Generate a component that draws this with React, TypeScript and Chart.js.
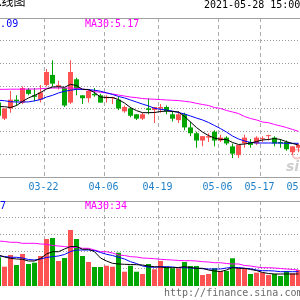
import React, { useEffect, useRef } from 'react';
import { Chart, registerables } from 'chart.js';

Chart.register(...registerables);

// ---------------- data ----------------
const TITLE = '日K线图';
const TIMESTAMP = '2021-05-28 15:00';
const PRICE_MA_TEXT = ['MA10:5.09', 'MA30:5.17'];
const VOLUME_MA_TEXT = ['MA10:27', 'MA30:34'];
const SOURCE = 'http://finance.sina.com';

const OPEN = [5.37, 5.26, 5.33, 5.39, 5.37, 5.46, 5.42, 5.39, 5.49, 5.56, 5.48, 5.47, 5.37, 5.53, 5.42, 5.40, 5.43, 5.42, 5.40, 5.40, 5.39, 5.31, 5.33, 5.29, 5.26, 5.33, 5.32, 5.33, 5.34, 5.29, 5.25, 5.29, 5.20, 5.16, 5.11, 5.13, 5.17, 5.11, 5.13, 5.07, 5.01, 5.09, 5.10, 5.09, 5.12, 5.14, 5.13, 5.10, 5.10, 5.03, 5.06];
const HIGH = [5.37, 5.33, 5.45, 5.42, 5.48, 5.47, 5.47, 5.49, 5.60, 5.66, 5.52, 5.47, 5.66, 5.54, 5.42, 5.46, 5.47, 5.43, 5.42, 5.41, 5.41, 5.35, 5.34, 5.29, 5.30, 5.40, 5.34, 5.36, 5.35, 5.31, 5.31, 5.30, 5.24, 5.17, 5.14, 5.16, 5.18, 5.15, 5.14, 5.09, 5.08, 5.15, 5.12, 5.14, 5.14, 5.15, 5.14, 5.12, 5.11, 5.07, 5.09];
const LOW = [5.27, 5.25, 5.30, 5.35, 5.36, 5.42, 5.38, 5.37, 5.48, 5.48, 5.46, 5.34, 5.36, 5.42, 5.36, 5.37, 5.41, 5.37, 5.37, 5.36, 5.32, 5.30, 5.27, 5.25, 5.25, 5.29, 5.23, 5.30, 5.29, 5.24, 5.23, 5.18, 5.14, 5.06, 5.07, 5.10, 5.07, 5.10, 5.08, 4.99, 4.99, 5.06, 5.06, 5.08, 5.10, 5.11, 5.07, 5.06, 5.04, 5.01, 5.03];
const CLOSE = [5.28, 5.33, 5.39, 5.38, 5.47, 5.43, 5.41, 5.44, 5.58, 5.50, 5.49, 5.35, 5.58, 5.46, 5.40, 5.45, 5.42, 5.37, 5.41, 5.40, 5.33, 5.34, 5.28, 5.26, 5.29, 5.32, 5.34, 5.34, 5.31, 5.26, 5.29, 5.20, 5.16, 5.11, 5.14, 5.14, 5.11, 5.13, 5.09, 5.02, 5.08, 5.13, 5.08, 5.13, 5.12, 5.14, 5.09, 5.09, 5.05, 5.07, 5.08];

const MA5 = [5.343, 5.342, 5.336, 5.350, 5.378, 5.402, 5.419, 5.439, 5.463, 5.477, 5.479, 5.475, 5.495, 5.487, 5.461, 5.460, 5.439, 5.408, 5.405, 5.405, 5.391, 5.367, 5.336, 5.315, 5.301, 5.301, 5.302, 5.309, 5.312, 5.309, 5.306, 5.275, 5.237, 5.199, 5.168, 5.144, 5.127, 5.118, 5.117, 5.097, 5.083, 5.086, 5.093, 5.103, 5.114, 5.117, 5.124, 5.117, 5.102, 5.090, 5.079];
const MA10 = [5.386, 5.383, 5.376, 5.374, 5.374, 5.375, 5.382, 5.391, 5.408, 5.420, 5.436, 5.448, 5.455, 5.461, 5.461, 5.459, 5.455, 5.448, 5.437, 5.426, 5.412, 5.402, 5.388, 5.374, 5.360, 5.347, 5.331, 5.324, 5.319, 5.312, 5.302, 5.292, 5.278, 5.264, 5.251, 5.234, 5.213, 5.192, 5.168, 5.141, 5.121, 5.107, 5.097, 5.093, 5.093, 5.093, 5.093, 5.093, 5.091, 5.091, 5.091];
const MA30 = [5.461, 5.461, 5.462, 5.462, 5.462, 5.463, 5.463, 5.465, 5.468, 5.470, 5.470, 5.470, 5.470, 5.468, 5.463, 5.456, 5.446, 5.441, 5.436, 5.429, 5.422, 5.415, 5.408, 5.404, 5.398, 5.395, 5.393, 5.391, 5.388, 5.386, 5.384, 5.379, 5.374, 5.365, 5.357, 5.350, 5.336, 5.330, 5.316, 5.306, 5.295, 5.275, 5.261, 5.251, 5.237, 5.232, 5.220, 5.210, 5.199, 5.186, 5.173];

const VOLUME = [61.0, 41.0, 65.9, 44.6, 68.0, 46.8, 49.5, 63.8, 99.9, 102.0, 53.1, 59.5, 119.0, 99.9, 63.8, 51.0, 40.4, 40.4, 43.1, 41.0, 70.8, 30.4, 43.1, 30.4, 25.5, 46.8, 35.5, 53.1, 41.0, 37.6, 37.6, 51.0, 42.5, 42.5, 23.4, 25.5, 37.6, 31.9, 31.9, 58.9, 37.6, 37.6, 25.5, 28.3, 28.3, 23.4, 25.5, 21.3, 31.9, 27.0, 34.0];
const VOL_MA5 = [65.9, 61.6, 58.9, 57.4, 56.7, 53.1, 53.1, 58.4, 68.0, 72.9, 72.9, 78.6, 83.9, 83.9, 78.0, 78.0, 72.9, 59.5, 53.1, 48.2, 46.8, 46.1, 45.7, 45.3, 44.6, 42.5, 41.0, 40.4, 38.9, 38.9, 39.3, 41.0, 39.3, 37.6, 37.6, 34.0, 31.9, 30.8, 34.0, 38.9, 37.6, 37.6, 35.1, 32.9, 28.7, 26.6, 25.5, 25.5, 25.5, 25.5, 25.5];
const VOL_MA10 = [63.8, 62.7, 61.0, 61.0, 59.5, 56.3, 55.3, 57.4, 60.6, 62.3, 63.8, 66.9, 73.3, 76.5, 76.5, 76.5, 75.4, 71.2, 67.4, 64.8, 61.0, 57.4, 51.6, 47.8, 42.5, 40.4, 39.7, 41.0, 41.0, 40.4, 38.9, 38.9, 38.3, 37.6, 36.8, 36.1, 36.1, 36.1, 38.3, 39.7, 39.3, 37.6, 36.8, 34.0, 32.5, 32.5, 31.9, 30.4, 30.4, 30.4, 30.4];
const VOL_MA30 = [95.6, 94.6, 92.9, 92.9, 90.7, 90.7, 90.7, 89.3, 88.6, 86.1, 85.0, 83.9, 82.2, 82.2, 80.1, 80.1, 76.5, 72.9, 72.9, 70.1, 65.9, 64.8, 62.3, 61.6, 59.5, 58.9, 58.0, 56.7, 55.9, 55.3, 54.2, 53.8, 53.8, 53.1, 51.6, 51.0, 49.5, 49.5, 47.8, 46.8, 46.8, 43.6, 42.5, 40.4, 38.9, 38.9, 38.3, 37.2, 36.1, 35.1, 34.0];

const DATE_TICK_DAYS = [8, 18, 27, 37, 44, 51];
const DATE_TICK_LABELS = ['03-22', '04-06', '04-19', '05-06', '05-17', '05-26'];

const DAYS = OPEN.map((_, i) => i);

// ---------------- layout / style ----------------
const W = 300;
const H = 300;
const PRICE_TOP = 18;
const PRICE_BOTTOM = 177;
const PRICE_HIGH = 5.95;
const PRICE_LOW = 4.86;
const PRICE_DIVS = 7;
const VOL_BORDER = 201;
const VOL_TOP = 200;
const VOL_BOTTOM = 286;
const VOL_HIGH = 182.75;
const VOL_DIVS = 5;
const X_MIN = 0.25;
const X_MAX = 50.25;

const RED = '#ff5252';
const GREEN = '#00a600';
const MONO = '10px "DejaVu Sans Mono"';

const pSlope = (PRICE_HIGH - PRICE_LOW) / (PRICE_BOTTOM - PRICE_TOP);
const vSlope = VOL_HIGH / (VOL_BOTTOM - VOL_TOP);

const panelPlugin = {
  id: 'panels',
  beforeDatasetsDraw(chart: any) {
    const ctx = chart.ctx as CanvasRenderingContext2D;
    const xs = chart.scales.x;
    const yP = chart.scales.yP;
    const yV = chart.scales.yV;
    ctx.save();
    // watermark
    ctx.strokeStyle = 'rgba(240,150,150,0.55)';
    ctx.lineWidth = 2;
    ctx.beginPath();
    ctx.arc(297, 154, 4.5, 0, Math.PI * 2);
    ctx.stroke();
    ctx.fillStyle = 'rgba(185,185,185,0.7)';
    ctx.font = 'italic bold 14px "DejaVu Sans"';
    ctx.fillText('sina', 286, 171);

    // dotted horizontal grids
    ctx.lineWidth = 1;
    ctx.strokeStyle = '#9a9a9a';
    ctx.setLineDash([1, 2]);
    ctx.beginPath();
    for (let k = 1; k < PRICE_DIVS; k++) {
      const v = PRICE_LOW + (k * (PRICE_HIGH - PRICE_LOW)) / PRICE_DIVS;
      const py = Math.floor(yP.getPixelForValue(v)) + 0.5;
      ctx.moveTo(0, py);
      ctx.lineTo(W, py);
    }
    for (let k = 1; k < VOL_DIVS; k++) {
      const v = (k * VOL_HIGH) / VOL_DIVS;
      const py = Math.floor(yV.getPixelForValue(v)) + 0.5;
      ctx.moveTo(0, py);
      ctx.lineTo(W, py);
    }
    ctx.stroke();

    // dashed vertical date lines
    ctx.strokeStyle = '#acacac';
    ctx.setLineDash([4, 3]);
    ctx.beginPath();
    DATE_TICK_DAYS.forEach((d) => {
      const px = Math.round(xs.getPixelForValue(d) - 2.5) + 0.5;
      ctx.moveTo(px, PRICE_TOP);
      ctx.lineTo(px, PRICE_BOTTOM);
      ctx.moveTo(px, VOL_BORDER);
      ctx.lineTo(px, VOL_BOTTOM);
    });
    ctx.stroke();

    // solid borders
    ctx.setLineDash([]);
    ctx.strokeStyle = '#a0a0a0';
    ctx.beginPath();
    [PRICE_TOP, PRICE_BOTTOM, VOL_BORDER].forEach((y) => {
      ctx.moveTo(0, y + 0.5);
      ctx.lineTo(W, y + 0.5);
    });
    ctx.stroke();
    ctx.restore();
  },
  afterDraw(chart: any) {
    const ctx = chart.ctx as CanvasRenderingContext2D;
    const xs = chart.scales.x;
    ctx.save();
    ctx.textBaseline = 'alphabetic';
    // title
    ctx.fillStyle = '#000';
    ctx.font = '12px "Noto Sans CJK SC"';
    ctx.textAlign = 'right';
    ctx.fillText(TITLE, 25.5, 6);
    ctx.textAlign = 'left';
    ctx.font = MONO;
    ctx.fillText(TIMESTAMP, 204, 8);
    // MA legends
    ctx.fillStyle = '#0000ff';
    ctx.fillText(PRICE_MA_TEXT[0], -36, 27);
    ctx.fillText(VOLUME_MA_TEXT[0], -36, 209);
    ctx.fillStyle = '#ff00ff';
    ctx.fillText(PRICE_MA_TEXT[1], 85, 27);
    ctx.fillText(VOLUME_MA_TEXT[1], 85, 209);
    // date labels
    ctx.fillStyle = '#1f80c8';
    ctx.textAlign = 'center';
    DATE_TICK_DAYS.forEach((d, i) => {
      const px = xs.getPixelForValue(d) - 3;
      ctx.fillText(DATE_TICK_LABELS[i], px, 190);
    });
    // source
    ctx.textAlign = 'left';
    ctx.fillStyle = '#6a6a6a';
    ctx.fillText(SOURCE, 164, 296);
    ctx.restore();
  },
};

const colors = DAYS.map((i) => (CLOSE[i] >= OPEN[i] ? RED : GREEN));

function lineSet(label: string, values: number[], color: string, axis: string) {
  return {
    type: 'line' as const,
    label,
    data: DAYS.map((d, i) => ({ x: d, y: values[i] })),
    yAxisID: axis,
    borderColor: color,
    borderWidth: 1,
    pointRadius: 0,
    tension: 0,
    fill: false,
    order: 0,
  };
}

export default function App() {
  const ref = useRef<HTMLCanvasElement>(null);
  useEffect(() => {
    if (!ref.current) return;
    const chart = new Chart(ref.current, {
      type: 'bar',
      data: {
        datasets: [
          lineSet('MA5', MA5, '#000000', 'yP'),
          lineSet('MA10', MA10, '#0000ff', 'yP'),
          lineSet('MA30', MA30, '#ff00ff', 'yP'),
          lineSet('VMA5', VOL_MA5, '#000000', 'yV'),
          lineSet('VMA10', VOL_MA10, '#0000ff', 'yV'),
          lineSet('VMA30', VOL_MA30, '#ff00ff', 'yV'),
          {
            type: 'bar',
            label: 'body',
            data: DAYS.map((d, i) => ({ x: d, y: [OPEN[i], CLOSE[i]] })),
            yAxisID: 'yP',
            backgroundColor: colors,
            barThickness: 5,
            grouped: false,
            minBarLength: 1,
            inflateAmount: 0,
            borderWidth: 0,
            order: 1,
          },
          {
            type: 'bar',
            label: 'wick',
            data: DAYS.map((d, i) => ({ x: d, y: [LOW[i], HIGH[i]] })),
            yAxisID: 'yP',
            backgroundColor: colors,
            barThickness: 1,
            grouped: false,
            inflateAmount: 0,
            borderWidth: 0,
            order: 2,
          },
          {
            type: 'bar',
            label: 'volume',
            data: DAYS.map((d, i) => ({ x: d, y: VOLUME[i] })),
            yAxisID: 'yV',
            backgroundColor: colors,
            barThickness: 5,
            grouped: false,
            inflateAmount: 0,
            borderWidth: 0,
            order: 1,
          },
        ] as any,
      },
      options: {
        animation: false,
        responsive: false,
        maintainAspectRatio: false,
        devicePixelRatio: 1,
        events: [],
        layout: { padding: 0 },
        plugins: { legend: { display: false }, tooltip: { enabled: false } },
        scales: {
          x: { type: 'linear', min: X_MIN, max: X_MAX, display: false, offset: false },
          yP: {
            type: 'linear',
            display: false,
            max: PRICE_HIGH + PRICE_TOP * pSlope,
            min: PRICE_LOW - (H - PRICE_BOTTOM) * pSlope,
          },
          yV: {
            type: 'linear',
            display: false,
            max: VOL_BOTTOM * vSlope,
            min: -(H - VOL_BOTTOM) * vSlope,
          },
        },
      } as any,
      plugins: [panelPlugin],
    });
    return () => chart.destroy();
  }, []);
  return (
    <div style={{ position: 'absolute', left: 0, top: 0, width: W, height: H, background: '#fff', overflow: 'hidden' }}>
      <canvas ref={ref} width={W} height={H} style={{ display: 'block', width: W, height: H }} />
    </div>
  );
}
